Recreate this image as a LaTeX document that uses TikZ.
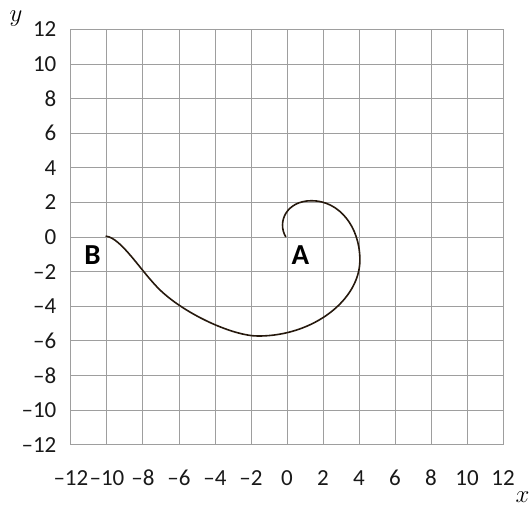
\documentclass[tikz,border=0pt]{standalone}
\usepackage{fontspec}
\newfontfamily\calfont{Carlito}
\begin{document}
\begin{tikzpicture}[x=18pt,y=17.3pt,
  gridline/.style={draw=black!38,line width=0.9pt},
  ticklab/.style={font=\calfont\fontsize{23}{23}\selectfont,text=black!90,inner sep=0pt},
  ptlab/.style={font=\calfont\bfseries\fontsize{29}{29}\selectfont,inner sep=0pt},
  axlab/.style={font=\fontsize{29}{29}\selectfont,inner sep=0pt},
  curve/.style={draw=black!80!brown,line width=1.6pt,line cap=round}]
\useasboundingbox (-15.94,-15.66) rectangle (13.61,13.7);
\foreach \v in {-12,-10,...,12} {
  \draw[gridline] (\v,-12) -- (\v,12);
  \draw[gridline] (-12,\v) -- (12,\v);
}
\foreach \v/\t in {-12/–12,-10/–10,-8/–8,-6/–6,-4/–4,-2/–2,0/0,2/2,4/4,6/6,8/8,10/10,12/12} {
  \node[ticklab,anchor=east] (ly\v) at (-12.8,\v) {\t};
  \node[ticklab] (lx\v) at (\v,-13.93) {\t};
}
\node[axlab] (ylab) at (-15.05,12.65) {$y$};
\node[axlab] (xlab) at (13.08,-15.05) {$x$};
\node[ptlab] (A) at (0.75,-1.05) {A};
\node[ptlab] (B) at (-10.8,-1.05) {B};
\draw[curve] (-0.07,0.02) .. controls (-0.55,0.85) and (-0.05,2.1) .. (1.37,2.1)
  .. controls (2.9,2.1) and (4.05,0.6) .. (4.05,-1.33)
  .. controls (4.05,-3.6) and (1.5,-5.72) .. (-1.6,-5.72)
  .. controls (-3.0,-5.72) and (-5.65,-4.46) .. (-7.05,-3.06)
  .. controls (-8.1,-2.0) and (-9.2,-0.05) .. (-10.05,0.05);
\end{tikzpicture}
\end{document}
